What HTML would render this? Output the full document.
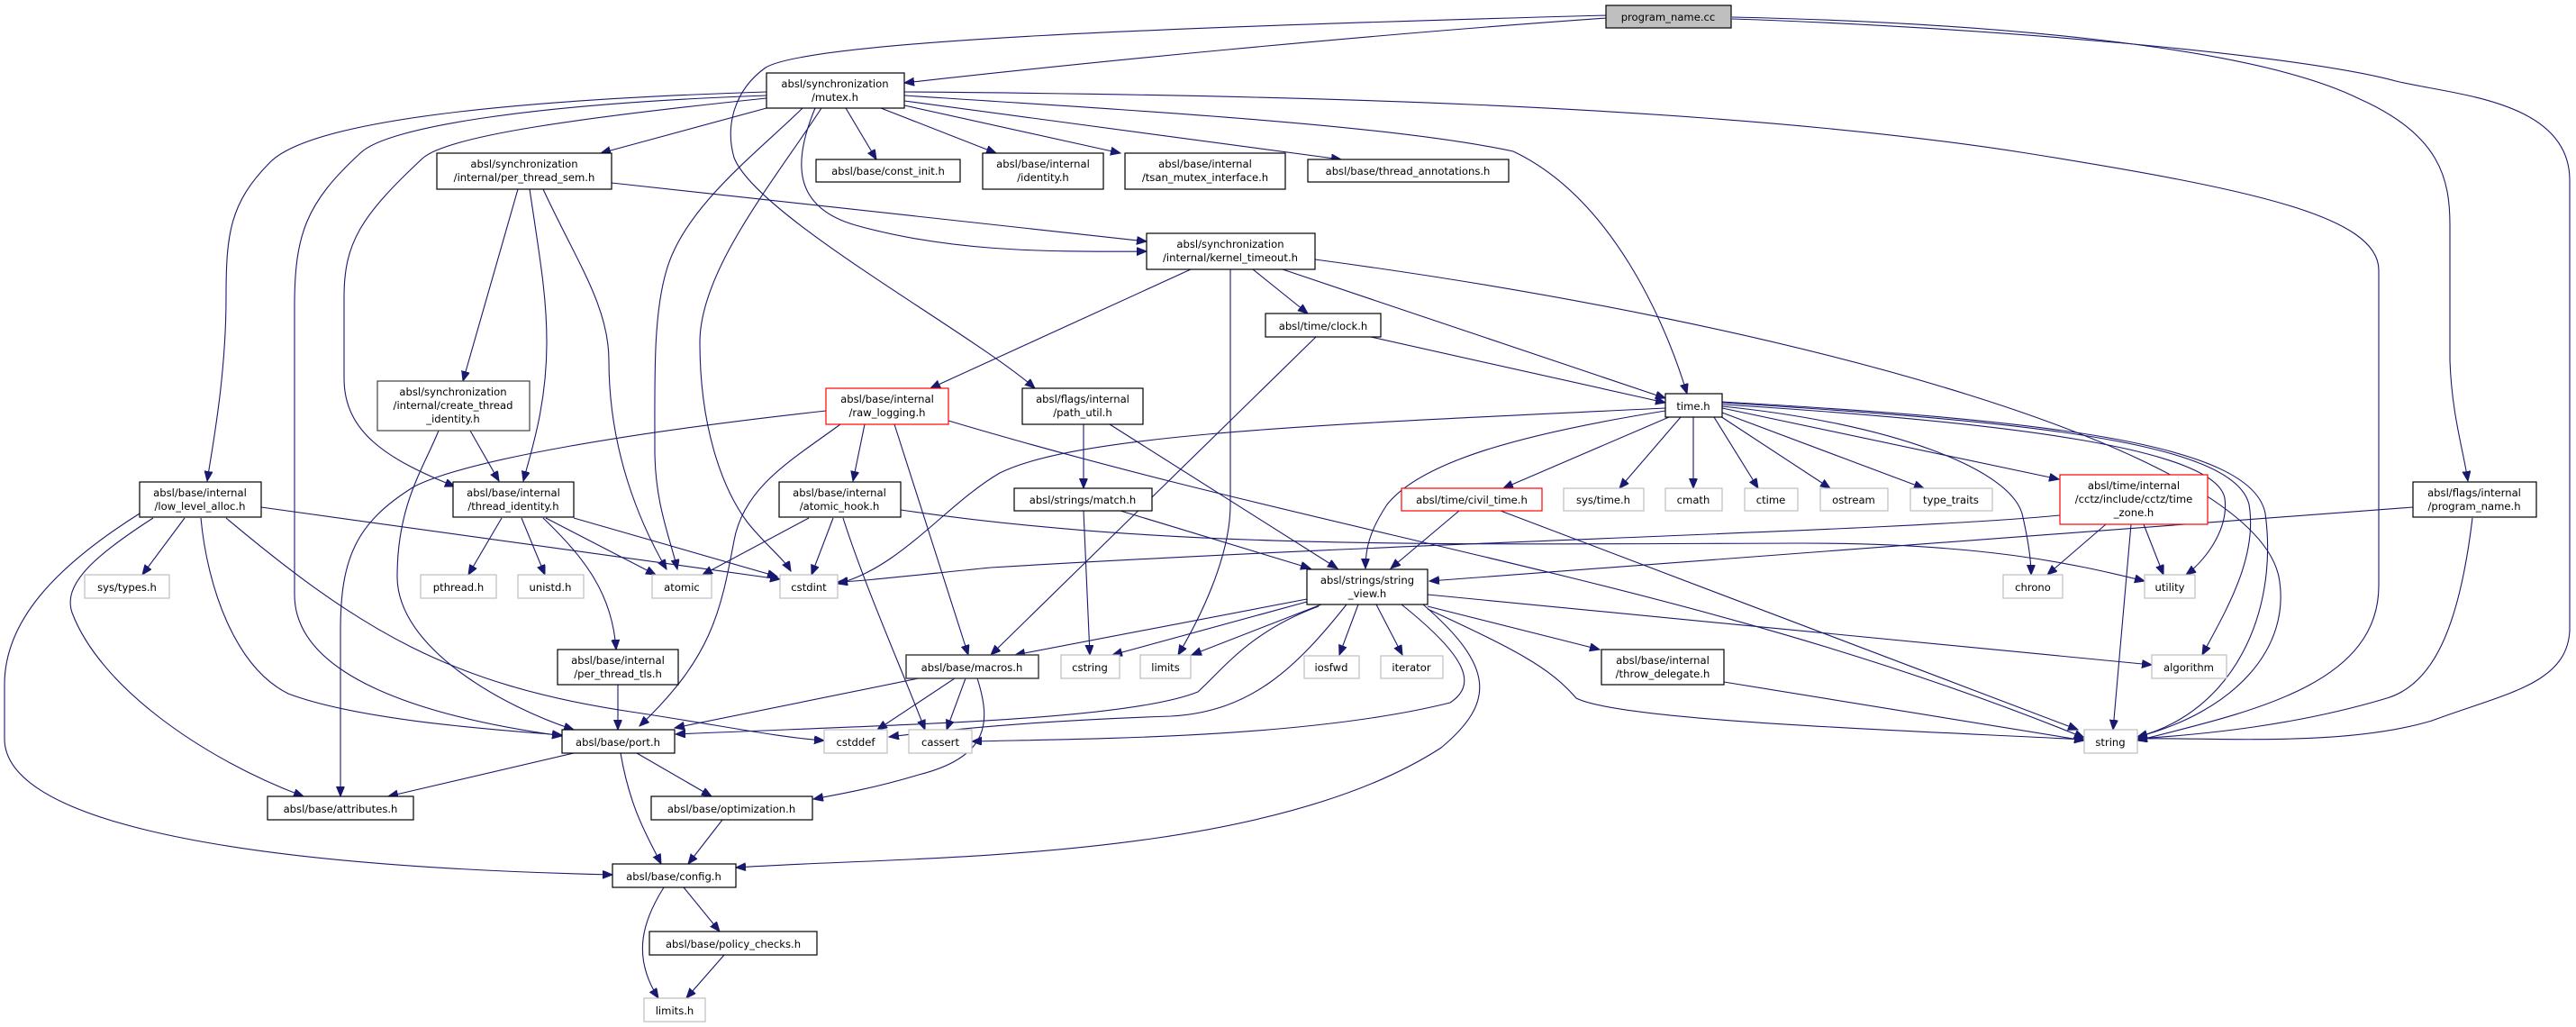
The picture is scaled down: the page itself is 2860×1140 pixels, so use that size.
<!DOCTYPE html>
<html><head><meta charset="utf-8"><style>
html,body{margin:0;padding:0;background:#fff;}
svg{display:block;}
text{font-family:"DejaVu Sans","Liberation Sans",sans-serif;font-size:11.6px;fill:#000;text-anchor:middle;}
.e{fill:none;stroke:#191970;stroke-width:1.1;marker-end:url(#a);}
.n{fill:#fff;stroke:#000;stroke-width:1.2;}
.g{fill:#fff;stroke:#bfbfbf;stroke-width:1.2;}
.r{fill:#fff;stroke:#ff0000;stroke-width:1.2;}
</style></head><body>
<svg width="2860" height="1140" viewBox="0 0 2860 1140" xmlns="http://www.w3.org/2000/svg">
<defs><marker id="a" markerWidth="12" markerHeight="10" refX="11" refY="4.5" orient="auto" markerUnits="userSpaceOnUse"><path d="M0,0 L11,4.5 L0,9 z" fill="#191970" stroke="#191970"/></marker></defs>
<g>
<path class="e" d="M1784,20 C1500,40 1200,70 1004,92"/>
<path class="e" d="M1784,17 C1300,30 900,45 850,75 C815,100 805,140 815,175 C840,240 1080,370 1149,431"/>
<path class="e" d="M1923,19 C2200,25 2500,50 2620,110 C2710,150 2720,200 2720,250 L2720,400 C2722,460 2735,500 2740,534"/>
<path class="e" d="M1923,21 C2200,30 2550,60 2660,90 C2720,105 2853,110 2853,200 L2853,700 C2850,760 2780,770 2700,800 C2600,830 2450,818 2373,820"/>
<path class="e" d="M851,102 C600,110 350,130 300,180 C255,225 251,260 251,330 C251,420 235,500 230,534"/>
<path class="e" d="M851,106 C600,115 430,140 400,170 C340,225 327,260 327,340 L327,660 C327,760 500,800 624,817"/>
<path class="e" d="M851,109 C650,130 500,150 470,175 C400,240 382,270 382,330 L382,420 C382,480 430,510 505,540"/>
<path class="e" d="M851,120 L667,170"/>
<path class="e" d="M891,120 C840,170 760,230 740,300 C725,350 727,420 727,500 C727,560 745,600 752,632"/>
<path class="e" d="M912,120 C860,200 777,300 777,380 C777,470 800,540 830,580 C850,605 870,620 878,634"/>
<path class="e" d="M939,120 L973,177"/>
<path class="e" d="M978,120 L1106,170"/>
<path class="e" d="M1004,117 L1244,170"/>
<path class="e" d="M1004,112 L1489,177"/>
<path class="e" d="M905,120 C880,180 880,230 950,250 C1050,278 1150,280 1273,279"/>
<path class="e" d="M679,203 L1273,268"/>
<path class="e" d="M1004,106 C1300,125 1550,140 1680,168 C1790,220 1850,360 1873,437"/>
<path class="e" d="M1004,102 C1400,105 1900,115 2250,170 C2500,210 2641,240 2641,300 L2641,650 C2641,760 2500,790 2373,822"/>
<path class="e" d="M575,210 L514,423"/>
<path class="e" d="M588,210 C600,290 607,330 607,380 C607,450 590,500 581,534"/>
<path class="e" d="M603,210 C640,290 676,340 676,400 C676,500 710,580 740,632"/>
<path class="e" d="M522,478 L554,534"/>
<path class="e" d="M487,478 C470,520 441,560 441,640 C441,720 560,785 637,810"/>
<path class="e" d="M557,575 L520,638"/>
<path class="e" d="M579,575 L605,638"/>
<path class="e" d="M606,575 L728,638"/>
<path class="e" d="M637,575 L863,640"/>
<path class="e" d="M603,575 C650,620 680,660 684,721"/>
<path class="e" d="M205,575 L158,638"/>
<path class="e" d="M290,563 L866,643"/>
<path class="e" d="M223,575 C230,650 260,740 320,770 C400,800 550,810 624,816"/>
<path class="e" d="M170,575 C100,620 70,650 80,680 C110,760 220,840 337,884"/>
<path class="e" d="M155,570 C60,630 5,690 5,760 L5,820 C5,900 200,960 680,971"/>
<path class="e" d="M251,575 C400,700 500,760 700,790 C800,805 860,818 915,822"/>
<path class="e" d="M917,456 C700,480 520,510 460,540 C395,580 378,620 378,700 L378,884"/>
<path class="e" d="M933,471 C880,510 826,540 815,600 C800,680 790,730 710,806"/>
<path class="e" d="M960,471 L947,534"/>
<path class="e" d="M993,471 L1075,727"/>
<path class="e" d="M1053,467 C1500,600 1900,650 2314,819"/>
<path class="e" d="M898,575 L780,638"/>
<path class="e" d="M925,575 L901,638"/>
<path class="e" d="M1000,566 C1300,610 1600,604 2000,603 C2200,603 2300,625 2381,645"/>
<path class="e" d="M936,575 C960,650 1000,740 1027,810"/>
<path class="e" d="M1203,471 L1203,542"/>
<path class="e" d="M1232,471 L1485,631"/>
<path class="e" d="M1203,567 L1210,727"/>
<path class="e" d="M1244,567 L1455,631"/>
<path class="e" d="M1322,299 L1033,431"/>
<path class="e" d="M1366,299 L1366,560 C1366,620 1330,690 1308,727"/>
<path class="e" d="M1391,299 L1452,348"/>
<path class="e" d="M1424,299 L1849,442"/>
<path class="e" d="M1460,288 C2000,360 2500,500 2530,640 C2545,720 2480,790 2373,818"/>
<path class="e" d="M1522,374 L1849,447"/>
<path class="e" d="M1461,374 L1100,727"/>
<path class="e" d="M1849,453 C1500,470 1200,480 1110,525 C1050,560 1000,630 930,648"/>
<path class="e" d="M1849,456 C1700,480 1580,510 1540,560 C1520,590 1516,610 1516,631"/>
<path class="e" d="M1853,463 L1669,542"/>
<path class="e" d="M1866,463 L1798,542"/>
<path class="e" d="M1880,463 L1880,542"/>
<path class="e" d="M1903,463 L1952,542"/>
<path class="e" d="M1910,462 L2032,542"/>
<path class="e" d="M1912,458 L2136,542"/>
<path class="e" d="M1912,453 L2286,532"/>
<path class="e" d="M1912,451 C2100,470 2230,520 2245,570 C2252,600 2255,620 2255,638"/>
<path class="e" d="M1912,449 C2250,470 2460,500 2470,553 C2475,590 2445,625 2427,638"/>
<path class="e" d="M1912,447 C2250,468 2480,490 2497,560 C2507,620 2470,680 2445,727"/>
<path class="e" d="M1912,446 C2260,466 2500,490 2515,570 C2530,680 2480,790 2373,818"/>
<path class="e" d="M1620,567 L1544,631"/>
<path class="e" d="M1666,567 L2307,810"/>
<path class="e" d="M2287,572 C2100,590 1600,600 1100,630 C1000,640 960,645 930,646"/>
<path class="e" d="M2338,582 L2273,638"/>
<path class="e" d="M2380,582 L2402,638"/>
<path class="e" d="M2366,582 L2346,810"/>
<path class="e" d="M2679,563 L1587,645"/>
<path class="e" d="M2745,575 C2730,700 2700,760 2650,775 C2550,805 2450,815 2373,820"/>
<path class="e" d="M1451,665 L1127,727"/>
<path class="e" d="M1451,668 L1235,727"/>
<path class="e" d="M1467,671 L1323,727"/>
<path class="e" d="M1464,673 C1390,700 1360,740 1330,768 C1250,800 1000,804 750,815"/>
<path class="e" d="M1495,671 C1440,740 1390,790 1300,795 C1150,800 1050,810 987,818"/>
<path class="e" d="M1508,671 L1487,727"/>
<path class="e" d="M1528,671 L1557,727"/>
<path class="e" d="M1556,671 C1630,730 1640,760 1610,780 C1450,820 1200,820 1079,823"/>
<path class="e" d="M1580,671 C1660,740 1660,780 1600,830 C1400,960 1000,950 817,963"/>
<path class="e" d="M1585,673 L1776,721"/>
<path class="e" d="M1585,660 L2389,738"/>
<path class="e" d="M1585,676 C1680,720 1720,740 1750,775 C1800,800 2100,810 2314,821"/>
<path class="e" d="M1914,757 L2314,822"/>
<path class="e" d="M1020,753 L749,808"/>
<path class="e" d="M1060,753 L974,810"/>
<path class="e" d="M1072,753 L1051,810"/>
<path class="e" d="M1085,753 C1100,800 1100,840 1020,860 C970,875 930,882 903,887"/>
<path class="e" d="M637,836 L431,884"/>
<path class="e" d="M707,836 L790,884"/>
<path class="e" d="M689,836 C700,900 720,930 734,959"/>
<path class="e" d="M802,910 L764,959"/>
<path class="e" d="M759,985 L799,1034"/>
<path class="e" d="M737,985 C715,1020 700,1060 731,1108"/>
<path class="e" d="M804,1060 L762,1108"/>
<path class="e" d="M686,760 L686,810"/>
</g>
<g>
<rect x="1783" y="6" width="139" height="25" fill="#bfbfbf" stroke="#000" stroke-width="1.2"/><text x="1852" y="23">program_name.cc</text>
<rect class="n" x="851" y="81" width="153" height="39"/><text x="927" y="97">absl/synchronization</text><text x="927" y="112">/mutex.h</text>
<rect class="n" x="485" y="170" width="194" height="40"/><text x="582" y="186">absl/synchronization</text><text x="582" y="201">/internal/per_thread_sem.h</text>
<rect class="n" x="906" y="177" width="160" height="25"/><text x="986" y="194">absl/base/const_init.h</text>
<rect class="n" x="1091" y="170" width="134" height="40"/><text x="1158" y="186">absl/base/internal</text><text x="1158" y="201">/identity.h</text>
<rect class="n" x="1249" y="170" width="178" height="40"/><text x="1338" y="186">absl/base/internal</text><text x="1338" y="201">/tsan_mutex_interface.h</text>
<rect class="n" x="1452" y="177" width="223" height="25"/><text x="1563" y="194">absl/base/thread_annotations.h</text>
<rect class="n" x="1273" y="259" width="187" height="40"/><text x="1366" y="275">absl/synchronization</text><text x="1366" y="290">/internal/kernel_timeout.h</text>
<rect class="n" x="1405" y="348" width="128" height="26"/><text x="1469" y="366">absl/time/clock.h</text>
<rect class="n" x="1849" y="437" width="63" height="26"/><text x="1880" y="455">time.h</text>
<rect class="r" x="917" y="431" width="136" height="40"/><text x="985" y="447">absl/base/internal</text><text x="985" y="462">/raw_logging.h</text>
<rect class="n" x="1135" y="431" width="134" height="40"/><text x="1202" y="447">absl/flags/internal</text><text x="1202" y="462">/path_util.h</text>
<rect x="419" y="423" width="169" height="55" fill="#fff" stroke="#404040" stroke-width="1.2"/><text x="503" y="439">absl/synchronization</text><text x="503" y="454">/internal/create_thread</text><text x="503" y="469">_identity.h</text>
<rect class="n" x="155" y="535" width="135" height="39"/><text x="222" y="551">absl/base/internal</text><text x="222" y="566">/low_level_alloc.h</text>
<rect class="n" x="503" y="535" width="134" height="39"/><text x="570" y="551">absl/base/internal</text><text x="570" y="566">/thread_identity.h</text>
<rect class="n" x="865" y="535" width="135" height="39"/><text x="932" y="551">absl/base/internal</text><text x="932" y="566">/atomic_hook.h</text>
<rect class="n" x="1126" y="542" width="153" height="25"/><text x="1202" y="559">absl/strings/match.h</text>
<rect class="r" x="1556" y="542" width="156" height="25"/><text x="1634" y="559">absl/time/civil_time.h</text>
<rect class="g" x="1736" y="542" width="89" height="25"/><text x="1780" y="559">sys/time.h</text>
<rect class="g" x="1849" y="542" width="63" height="25"/><text x="1880" y="559">cmath</text>
<rect class="g" x="1937" y="542" width="59" height="25"/><text x="1966" y="559">ctime</text>
<rect class="g" x="2021" y="542" width="75" height="25"/><text x="2058" y="559">ostream</text>
<rect class="g" x="2121" y="542" width="91" height="25"/><text x="2166" y="559">type_traits</text>
<rect class="r" x="2287" y="527" width="164" height="55"/><text x="2369" y="543">absl/time/internal</text><text x="2369" y="558">/cctz/include/cctz/time</text><text x="2369" y="573">_zone.h</text>
<rect class="n" x="2679" y="535" width="137" height="39"/><text x="2747" y="551">absl/flags/internal</text><text x="2747" y="566">/program_name.h</text>
<rect class="g" x="94" y="638" width="94" height="26"/><text x="141" y="656">sys/types.h</text>
<rect class="g" x="467" y="638" width="84" height="26"/><text x="509" y="656">pthread.h</text>
<rect class="g" x="575" y="638" width="73" height="26"/><text x="611" y="656">unistd.h</text>
<rect class="g" x="724" y="638" width="66" height="26"/><text x="757" y="656">atomic</text>
<rect class="g" x="866" y="638" width="64" height="26"/><text x="898" y="656">cstdint</text>
<rect class="g" x="2224" y="638" width="66" height="26"/><text x="2257" y="656">chrono</text>
<rect class="g" x="2381" y="638" width="56" height="26"/><text x="2409" y="656">utility</text>
<rect class="n" x="1451" y="632" width="134" height="39"/><text x="1518" y="648">absl/strings/string</text><text x="1518" y="663">_view.h</text>
<rect class="n" x="619" y="721" width="134" height="39"/><text x="686" y="737">absl/base/internal</text><text x="686" y="752">/per_thread_tls.h</text>
<rect x="1006" y="727" width="147" height="26" fill="#fff" stroke="#404040" stroke-width="1.5"/><text x="1079" y="745">absl/base/macros.h</text>
<rect class="g" x="1178" y="727" width="65" height="26"/><text x="1210" y="745">cstring</text>
<rect class="g" x="1266" y="727" width="56" height="26"/><text x="1294" y="745">limits</text>
<rect class="g" x="1448" y="728" width="61" height="25"/><text x="1478" y="745">iosfwd</text>
<rect class="g" x="1533" y="728" width="69" height="25"/><text x="1567" y="745">iterator</text>
<rect class="n" x="1778" y="721" width="136" height="39"/><text x="1846" y="737">absl/base/internal</text><text x="1846" y="752">/throw_delegate.h</text>
<rect class="g" x="2389" y="727" width="83" height="26"/><text x="2430" y="745">algorithm</text>
<rect class="n" x="624" y="810" width="125" height="26"/><text x="686" y="828">absl/base/port.h</text>
<rect class="g" x="915" y="810" width="70" height="26"/><text x="950" y="828">cstddef</text>
<rect class="g" x="1009" y="810" width="70" height="26"/><text x="1044" y="828">cassert</text>
<rect class="g" x="2314" y="810" width="59" height="26"/><text x="2343" y="828">string</text>
<rect class="n" x="297" y="884" width="162" height="26"/><text x="378" y="902">absl/base/attributes.h</text>
<rect class="n" x="723" y="884" width="179" height="26"/><text x="812" y="902">absl/base/optimization.h</text>
<rect class="n" x="680" y="959" width="137" height="26"/><text x="748" y="977">absl/base/config.h</text>
<rect class="n" x="721" y="1034" width="186" height="26"/><text x="814" y="1052">absl/base/policy_checks.h</text>
<rect class="g" x="715" y="1108" width="68" height="26"/><text x="749" y="1126">limits.h</text>
</g>
</svg>
</body></html>
